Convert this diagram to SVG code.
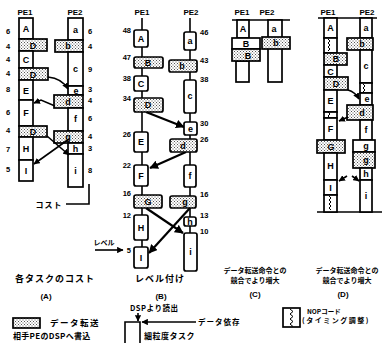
<svg xmlns="http://www.w3.org/2000/svg" width="384" height="343" viewBox="0 0 384 343">
<defs>
<pattern id="dots" width="3" height="3" patternUnits="userSpaceOnUse">
<rect width="3" height="3" fill="#fff"/>
<rect x="0" y="0" width="1" height="1" fill="#555"/>
<rect x="1.5" y="1.5" width="1" height="1" fill="#555"/>
</pattern>
<marker id="ar" viewBox="0 0 6 6" refX="5.5" refY="3" markerWidth="4" markerHeight="4" orient="auto">
<path d="M0,0 L6,3 L0,6 z" fill="#000"/>
</marker>
<style>
.b{fill:#fff;stroke:#000;stroke-width:1.7}
.d{fill:url(#dots);stroke:#000;stroke-width:1.7}
.t{font-family:"Liberation Sans",sans-serif;font-weight:bold;font-size:9px;text-anchor:middle;fill:#000}
.n{font-family:"Liberation Sans",sans-serif;font-weight:bold;font-size:7.5px;fill:#000}
.nr{text-anchor:end}
.h{font-family:"Liberation Sans",sans-serif;font-weight:bold;font-size:8px;text-anchor:middle}
.jp{font-family:"Noto Sans CJK JP",sans-serif;font-weight:bold;fill:#000}
.c{stroke:#000;stroke-width:1.6;fill:none}
.cw{stroke:#000;stroke-width:2.2;fill:none}
.z{stroke:#000;stroke-width:1;fill:none}
</style>
</defs>
<rect width="384" height="343" fill="#fff"/>

<!-- Panel A -->
<g id="panelA-heads">
<text class="h" x="25" y="15">PE1</text>
<text class="h" x="75" y="15">PE2</text>
</g>
<g id="A-costs" class="n">
<text x="6" y="34">6</text><text x="6" y="49">4</text><text x="6" y="62">4</text><text x="6" y="76">4</text><text x="6" y="92">8</text><text x="6" y="115">6</text><text x="6" y="133">4</text><text x="6" y="152">7</text><text x="6" y="172">5</text>
<text x="88" y="34">6</text><text x="88" y="49">4</text><text x="88" y="72">9</text><text x="88" y="92">3</text><text x="88" y="103">4</text><text x="88" y="121">6</text><text x="88" y="139">4</text><text x="88" y="151">3</text><text x="88" y="173">8</text>
</g>
<g id="A1-A"><rect class="b" x="19" y="18" width="14" height="21"/><text class="t" x="26" y="32">A</text></g>
<g id="A1-D1"><rect class="d" x="19" y="39" width="28" height="12"/><text class="t" x="33" y="48.5">D</text></g>
<g id="A1-C"><rect class="b" x="19" y="51" width="14" height="17"/><text class="t" x="26" y="63">C</text></g>
<g id="A1-D2"><rect class="d" x="19" y="68" width="29" height="12"/><text class="t" x="33" y="77.5">D</text></g>
<g id="A1-E"><rect class="b" x="19" y="80" width="14" height="20"/><text class="t" x="26" y="93.5">E</text></g>
<g id="A1-F"><rect class="b" x="19" y="100" width="14" height="26"/><text class="t" x="26" y="116">F</text></g>
<g id="A1-D3"><rect class="d" x="19" y="126" width="28" height="11"/><text class="t" x="33" y="135">D</text></g>
<g id="A1-H"><rect class="b" x="19" y="137" width="14" height="23"/><text class="t" x="26" y="152">H</text></g>
<g id="A1-I"><rect class="b" x="19" y="160" width="14" height="21"/><text class="t" x="26" y="174">I</text></g>
<g id="A2-a"><rect class="b" x="68" y="18" width="15" height="22"/><text class="t" x="75.5" y="33">a</text></g>
<g id="A2-b"><rect class="d" x="55" y="40" width="28" height="12"/><text class="t" x="68" y="49">b</text></g>
<g id="A2-c"><rect class="b" x="68" y="52" width="15" height="34"/><text class="t" x="75.5" y="72">c</text></g>
<g id="A2-e"><rect class="b" x="68" y="86" width="15" height="9"/><text class="t" x="76" y="93.5">e</text></g>
<g id="A2-d"><rect class="d" x="54" y="95" width="29" height="13"/><text class="t" x="68" y="104.5">d</text></g>
<g id="A2-f"><rect class="b" x="68" y="108" width="15" height="23"/><text class="t" x="75.5" y="122">f</text></g>
<g id="A2-g"><rect class="d" x="54" y="131" width="29" height="12"/><text class="t" x="68" y="140">g</text></g>
<g id="A2-h"><rect class="b" x="68" y="143" width="15" height="11"/><text class="t" x="75.5" y="152">h</text></g>
<g id="A2-i"><rect class="b" x="68" y="154" width="15" height="33"/><text class="t" x="75.5" y="174">i</text></g>
<g id="A-cost-label"><text class="jp" x="49" y="208" font-size="8" text-anchor="middle" letter-spacing="1">コスト</text></g>
<g id="connectors-A">
<path class="c" d="M48,77 C58,78 64,82 68,89" marker-end="url(#ar)"/>
<path class="c" d="M55,106 L41,100 L34,103" marker-end="url(#ar)"/>
<path class="c" d="M47,136 L69,155" marker-end="url(#ar)"/>
<path class="c" d="M69,139 L34,164" marker-end="url(#ar)"/>
<path class="c" d="M66,204 L89,204 L89,184"/>
</g>
<text class="jp" x="55" y="282" font-size="9" text-anchor="middle" letter-spacing="1">各タスクのコスト</text>
<text class="h" x="46" y="299" font-size="10">(A)</text>

<!-- Panel B -->
<g id="panelB-heads">
<text class="h" x="142" y="15">PE1</text>
<text class="h" x="191" y="15">PE2</text>
</g>
<g id="connectors-B">
<path class="c" d="M142,18 L142,248"/>
<path class="c" d="M190,18 L190,234"/>
<path class="cw" d="M146,112 L184,127" marker-end="url(#ar)"/>
<path class="cw" d="M186,152 L150,168" marker-end="url(#ar)"/>
<path class="cw" d="M146,208 L183,233" marker-end="url(#ar)"/>
<path class="cw" d="M190,208 L149,253" marker-end="url(#ar)"/>
<path class="c" d="M95,250 L123,250" marker-end="url(#ar)"/>
</g>
<g id="B-levels" class="n">
<text class="nr" x="131" y="33">48</text><text class="nr" x="131" y="60">47</text><text class="nr" x="131" y="81">38</text><text class="nr" x="131" y="101">34</text><text class="nr" x="131" y="137">26</text><text class="nr" x="131" y="168">22</text><text class="nr" x="131" y="196">16</text><text class="nr" x="131" y="218">12</text><text class="nr" x="131" y="253">5</text>
<text x="200" y="35">46</text><text x="200" y="63">43</text><text x="200" y="82">38</text><text x="200" y="126">30</text><text x="200" y="142">26</text><text x="200" y="197">16</text><text x="200" y="218">13</text><text x="200" y="234">10</text>
</g>
<g id="B1-A"><rect class="b" x="134" y="30" width="14" height="17" rx="2"/><text class="t" x="141" y="42">A</text></g>
<g id="B1-B"><rect class="d" x="134" y="57" width="29" height="11" rx="2"/><text class="t" x="148" y="66">B</text></g>
<g id="B1-C"><rect class="b" x="134" y="76" width="14" height="15" rx="2"/><text class="t" x="141" y="87">C</text></g>
<g id="B1-D"><rect class="d" x="134" y="98" width="29" height="14" rx="2"/><text class="t" x="148" y="108">D</text></g>
<g id="B1-E"><rect class="b" x="134" y="132" width="14" height="20" rx="2"/><text class="t" x="141" y="145">E</text></g>
<g id="B1-F"><rect class="b" x="134" y="165" width="14" height="21" rx="2"/><text class="t" x="141" y="179">F</text></g>
<g id="B1-G"><rect class="d" x="134" y="195" width="28" height="13" rx="2"/><text class="t" x="148" y="205">G</text></g>
<g id="B1-H"><rect class="b" x="134" y="215" width="14" height="25" rx="2"/><text class="t" x="141" y="231">H</text></g>
<g id="B1-I"><rect class="b" x="134" y="247" width="14" height="21" rx="2"/><text class="t" x="141" y="261">I</text></g>
<g id="B2-a"><rect class="b" x="184" y="32" width="12" height="18" rx="2"/><text class="t" x="190" y="44">a</text></g>
<g id="B2-b"><rect class="d" x="169" y="60" width="28" height="12" rx="2"/><text class="t" x="182" y="69">b</text></g>
<g id="B2-c"><rect class="b" x="184" y="80" width="12" height="33" rx="2"/><text class="t" x="190" y="99">c</text></g>
<g id="B2-e"><rect class="b" x="184" y="122" width="13" height="13" rx="2"/><text class="t" x="190.5" y="132">e</text></g>
<g id="B2-d"><rect class="d" x="170" y="139" width="27" height="13" rx="2"/><text class="t" x="183" y="149">d</text></g>
<g id="B2-f"><rect class="b" x="184" y="165" width="12" height="22" rx="2"/><text class="t" x="190" y="179">f</text></g>
<g id="B2-g"><rect class="d" x="170" y="196" width="26" height="12" rx="2"/><text class="t" x="185" y="205">g</text></g>
<g id="B2-h"><rect class="b" x="184" y="217" width="12" height="9" rx="2"/><text class="t" x="190" y="224.5">h</text></g>
<g id="B2-i"><rect class="b" x="184" y="233" width="13" height="38" rx="2"/><text class="t" x="190.5" y="255">i</text></g>
<text class="jp" x="104" y="245" font-size="7" text-anchor="middle">レベル</text>
<text class="jp" x="160" y="282" font-size="9" text-anchor="middle" letter-spacing="1">レベル付け</text>
<text class="h" x="161" y="299" font-size="10">(B)</text>

<!-- Panel C -->
<g id="panelC-heads">
<text class="h" x="242" y="15">PE1</text>
<text class="h" x="267" y="15">PE2</text>
<path class="c" d="M232,20 L290,20"/>
</g>
<g id="C1-A"><rect class="b" x="237" y="20" width="12" height="18"/><text class="t" x="243" y="32">A</text></g>
<g id="C1-C"><rect class="b" x="236" y="61" width="13" height="21"/></g>
<g id="C1-B"><rect class="b" x="232" y="38" width="28" height="11"/><text class="t" x="246" y="47">B</text></g>
<g id="C1-Bx"><rect class="d" x="232" y="49" width="28" height="12"/><text class="t" x="248" y="58.5">B</text></g>
<g id="C2-a"><rect class="b" x="268" y="20" width="14" height="62"/><text class="t" x="274" y="32">a</text></g>
<g id="C2-b"><rect class="d" x="262" y="37" width="28" height="12"/><text class="t" x="276" y="46">b</text></g>
<text class="jp" x="255" y="273" font-size="7" text-anchor="middle">データ転送命令との</text>
<text class="jp" x="255" y="283" font-size="7" text-anchor="middle">競合でより増大</text>
<text class="h" x="255" y="297" font-size="10">(C)</text>

<!-- Panel D -->
<g id="panelD-heads">
<text class="h" x="328" y="15">PE1</text>
<text class="h" x="367" y="15">PE2</text>
<path class="c" d="M318,18 L377,18"/>
<path class="c" d="M317,212 L382,212"/>
</g>
<g id="D1-A"><rect class="b" x="324" y="18" width="13" height="20"/><text class="t" x="330.5" y="31">A</text></g>
<g id="D1-nop1"><rect class="b" x="324" y="38" width="13" height="15"/><path class="z" d="M328,39 l2,2 l-2,2 l2,2 l-2,2 l2,2 l-2,2"/></g>
<g id="D1-B"><rect class="d" x="324" y="53" width="23" height="12"/><text class="t" x="336" y="62">B</text></g>
<g id="D1-C"><rect class="b" x="324" y="65" width="13" height="12"/><text class="t" x="330.5" y="74.5">C</text></g>
<g id="D1-D"><rect class="d" x="324" y="77" width="24" height="13"/><text class="t" x="336" y="86.5">D</text></g>
<g id="D1-E"><rect class="b" x="324" y="90" width="13" height="22"/><text class="t" x="330.5" y="104">E</text></g>
<g id="D1-nop2"><rect class="b" x="324" y="112" width="13" height="6"/><path class="z" d="M328,112 l2,2 l-2,2 l2,2"/></g>
<g id="D1-F"><rect class="b" x="324" y="118" width="13" height="22"/><text class="t" x="330.5" y="132">F</text></g>
<g id="D1-G"><rect class="d" x="317" y="140" width="28" height="13"/><text class="t" x="331" y="150">G</text></g>
<g id="D1-H"><rect class="b" x="324" y="153" width="13" height="27"/><text class="t" x="330.5" y="169">H</text></g>
<g id="D1-I"><rect class="b" x="324" y="180" width="13" height="15"/><text class="t" x="330.5" y="191">I</text></g>
<g id="D1-nop3"><rect class="b" x="324" y="195" width="13" height="17"/><path class="z" d="M329,196 l2,2 l-2,2 l2,2 l-2,2 l2,2 l-2,2 l2,2"/></g>
<g id="D2-a"><rect class="b" x="360" y="18" width="12" height="20"/><text class="t" x="366" y="31">a</text></g>
<g id="D2-b"><rect class="d" x="347" y="38" width="26" height="12"/><text class="t" x="362" y="47">b</text></g>
<g id="D2-c"><rect class="b" x="360" y="50" width="12" height="33"/><text class="t" x="366" y="69">c</text></g>
<g id="D2-nop"><rect class="b" x="360" y="83" width="12" height="10"/><path class="z" d="M363,84 l2,2 l-2,2 l2,2 l-2,2"/></g>
<g id="D2-e"><rect class="b" x="360" y="93" width="12" height="12"/><text class="t" x="367" y="102">e</text></g>
<g id="D2-d"><rect class="d" x="347" y="105" width="26" height="15"/><text class="t" x="362" y="115.5">d</text></g>
<g id="D2-f"><rect class="b" x="360" y="120" width="12" height="20"/><text class="t" x="366" y="133">f</text></g>
<g id="D2-g"><rect class="b" x="353" y="140" width="22" height="12"/><text class="t" x="366" y="149">g</text></g>
<g id="D2-gx"><rect class="d" x="353" y="152" width="22" height="16"/><text class="t" x="366" y="163">g</text></g>
<g id="D2-h"><rect class="b" x="360" y="168" width="12" height="12"/><text class="t" x="366" y="177">h</text></g>
<g id="D2-i"><rect class="b" x="360" y="180" width="12" height="32"/><text class="t" x="366" y="199">i</text></g>
<g id="connectors-D">
<path class="c" d="M348,90 Q355,92 359,99" marker-end="url(#ar)"/>
<path class="c" d="M348,117 L339,121" marker-end="url(#ar)"/>
<path class="c" d="M347,176 L339,181" marker-end="url(#ar)"/>
<path class="c" d="M352,176 L359,181" marker-end="url(#ar)"/>
</g>
<text class="jp" x="347" y="273" font-size="7" text-anchor="middle">データ転送命令との</text>
<text class="jp" x="347" y="283" font-size="7" text-anchor="middle">競合でより増大</text>
<text class="h" x="343" y="297" font-size="10">(D)</text>

<!-- Legend -->
<g id="legend-transfer">
<rect class="d" x="13" y="318" width="27" height="10"/>
<text class="jp" x="50" y="326" font-size="8.5" letter-spacing="1.5">データ転送</text>
<text class="jp" x="13" y="339" font-size="8" letter-spacing="0.3">相手PEのDSPへ書込</text>
</g>
<g id="legend-task">
<text class="jp" x="130" y="311" font-size="7.5" letter-spacing="0.5">DSPより読出</text>
<path class="c" d="M125,345 L125,322 L140,322 L140,345"/>
<path class="c" d="M138,313 L138,321" marker-end="url(#ar)"/>
<path class="c" d="M196,322 L142,322" marker-end="url(#ar)"/>
<text class="jp" x="198" y="325" font-size="7.5" letter-spacing="1">データ依存</text>
<text class="jp" x="144" y="339" font-size="8" letter-spacing="0.5">細粒度タスク</text>
</g>
<g id="legend-nop">
<rect class="b" x="283" y="308" width="17" height="19"/>
<path class="z" d="M290,309 l3,2.5 l-3,2.5 l3,2.5 l-3,2.5 l3,2.5 l-3,2.5 l3,2.5"/>
<text class="jp" x="307" y="314" font-size="6.5">NOPコード</text>
<text class="jp" x="302" y="323" font-size="7" letter-spacing="1.5">(タイミング調整)</text>
</g>
</svg>
